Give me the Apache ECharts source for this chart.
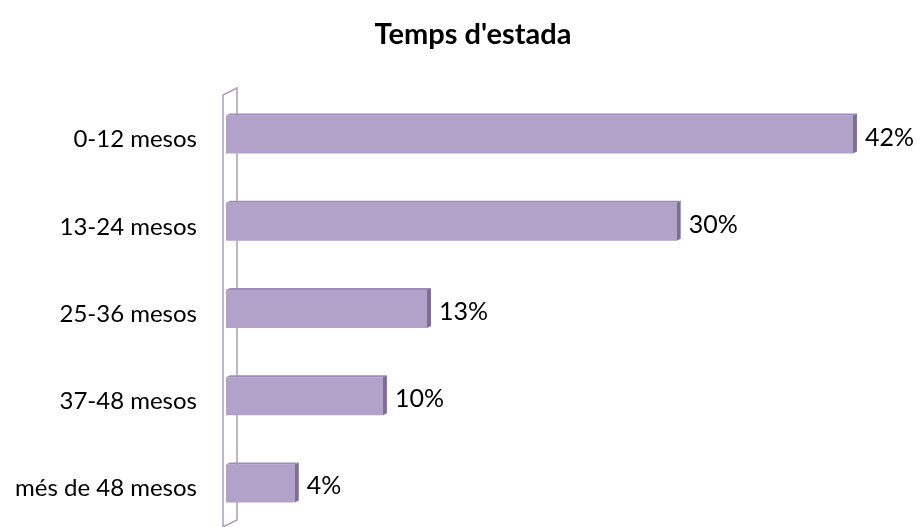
<!DOCTYPE html>
<html><head><meta charset="utf-8">
<script src="https://cdn.jsdelivr.net/npm/echarts@6/dist/echarts.min.js"></script>
<style>html,body{margin:0;padding:0;background:#fff}#c{width:921px;height:527px}</style>
</head><body><div id="c"></div>
<script>
const titleText = "Temps d'estada";
const categories = ['0-12 mesos', '13-24 mesos', '25-36 mesos', '37-48 mesos', 'més de 48 mesos'];
const values = [42, 30, 13, 10, 4];
const valueLabels = ['42%', '30%', '13%', '10%', '4%'];

const chart = echarts.init(document.getElementById('c'));
const FONT = 'Lato';
chart.setOption({
  animation: false,
  title: { text: titleText, left: 468, top: 15, textAlign: 'center',
    textStyle: { fontFamily: FONT, fontWeight: 'bold', fontSize: 29, color: '#000' } },
  grid: { left: 240, right: 20, top: 91, bottom: -3 },
  xAxis: { type: 'value', min: 0, max: 45, show: false },
  yAxis: { type: 'category', data: categories, inverse: true,
    axisLine: { show: false }, axisTick: { show: false },
    axisLabel: { margin: 43, fontFamily: FONT, fontSize: 24, color: '#000',
      verticalAlign: 'top', lineHeight: 10 } },
  graphic: [
    { type: 'polyline', shape: { points: [[223, 527], [223, 95], [237, 88], [237, 520], [223, 527]] },
      style: { stroke: '#a99dc0', lineWidth: 1.5, fill: null }, z: 1 }
  ],
  series: [{
    type: 'custom',
    encode: { x: 0, y: 1 },
    data: values.map((v, i) => [v, i, valueLabels[i]]),
    z: 5,
    renderItem: function (params, api) {
      const end = api.coord([api.value(0), api.value(1)]);
      const start = api.coord([0, api.value(1)]);
      const h = 38, d = 4;
      const x0 = start[0] - 14, x1 = end[0];
      const top = end[1] - h / 2, bot = end[1] + h / 2;
      return { type: 'group', children: [
        { type: 'rect', shape: { x: x0, y: top, width: x1 - x0 - d, height: h },
          style: { fill: '#b2a2c9' } },
        { type: 'polygon', shape: { points: [[x0, top], [x0 + d, top - 2], [x1, top - 2], [x1 - d, top]] },
          style: { fill: '#9d8cb7' } },
        { type: 'polygon', shape: { points: [[x1 - d, top], [x1, top - 2], [x1, bot - 2], [x1 - d, bot]] },
          style: { fill: '#7c6d97' } },
        { type: 'text', style: { x: x1 + 8, y: end[1] + 3, text: api.value(2),
            fontFamily: FONT, fontSize: 25, fill: '#000', verticalAlign: 'middle', align: 'left' } }
      ] };
    }
  }]
});
</script></body></html>
